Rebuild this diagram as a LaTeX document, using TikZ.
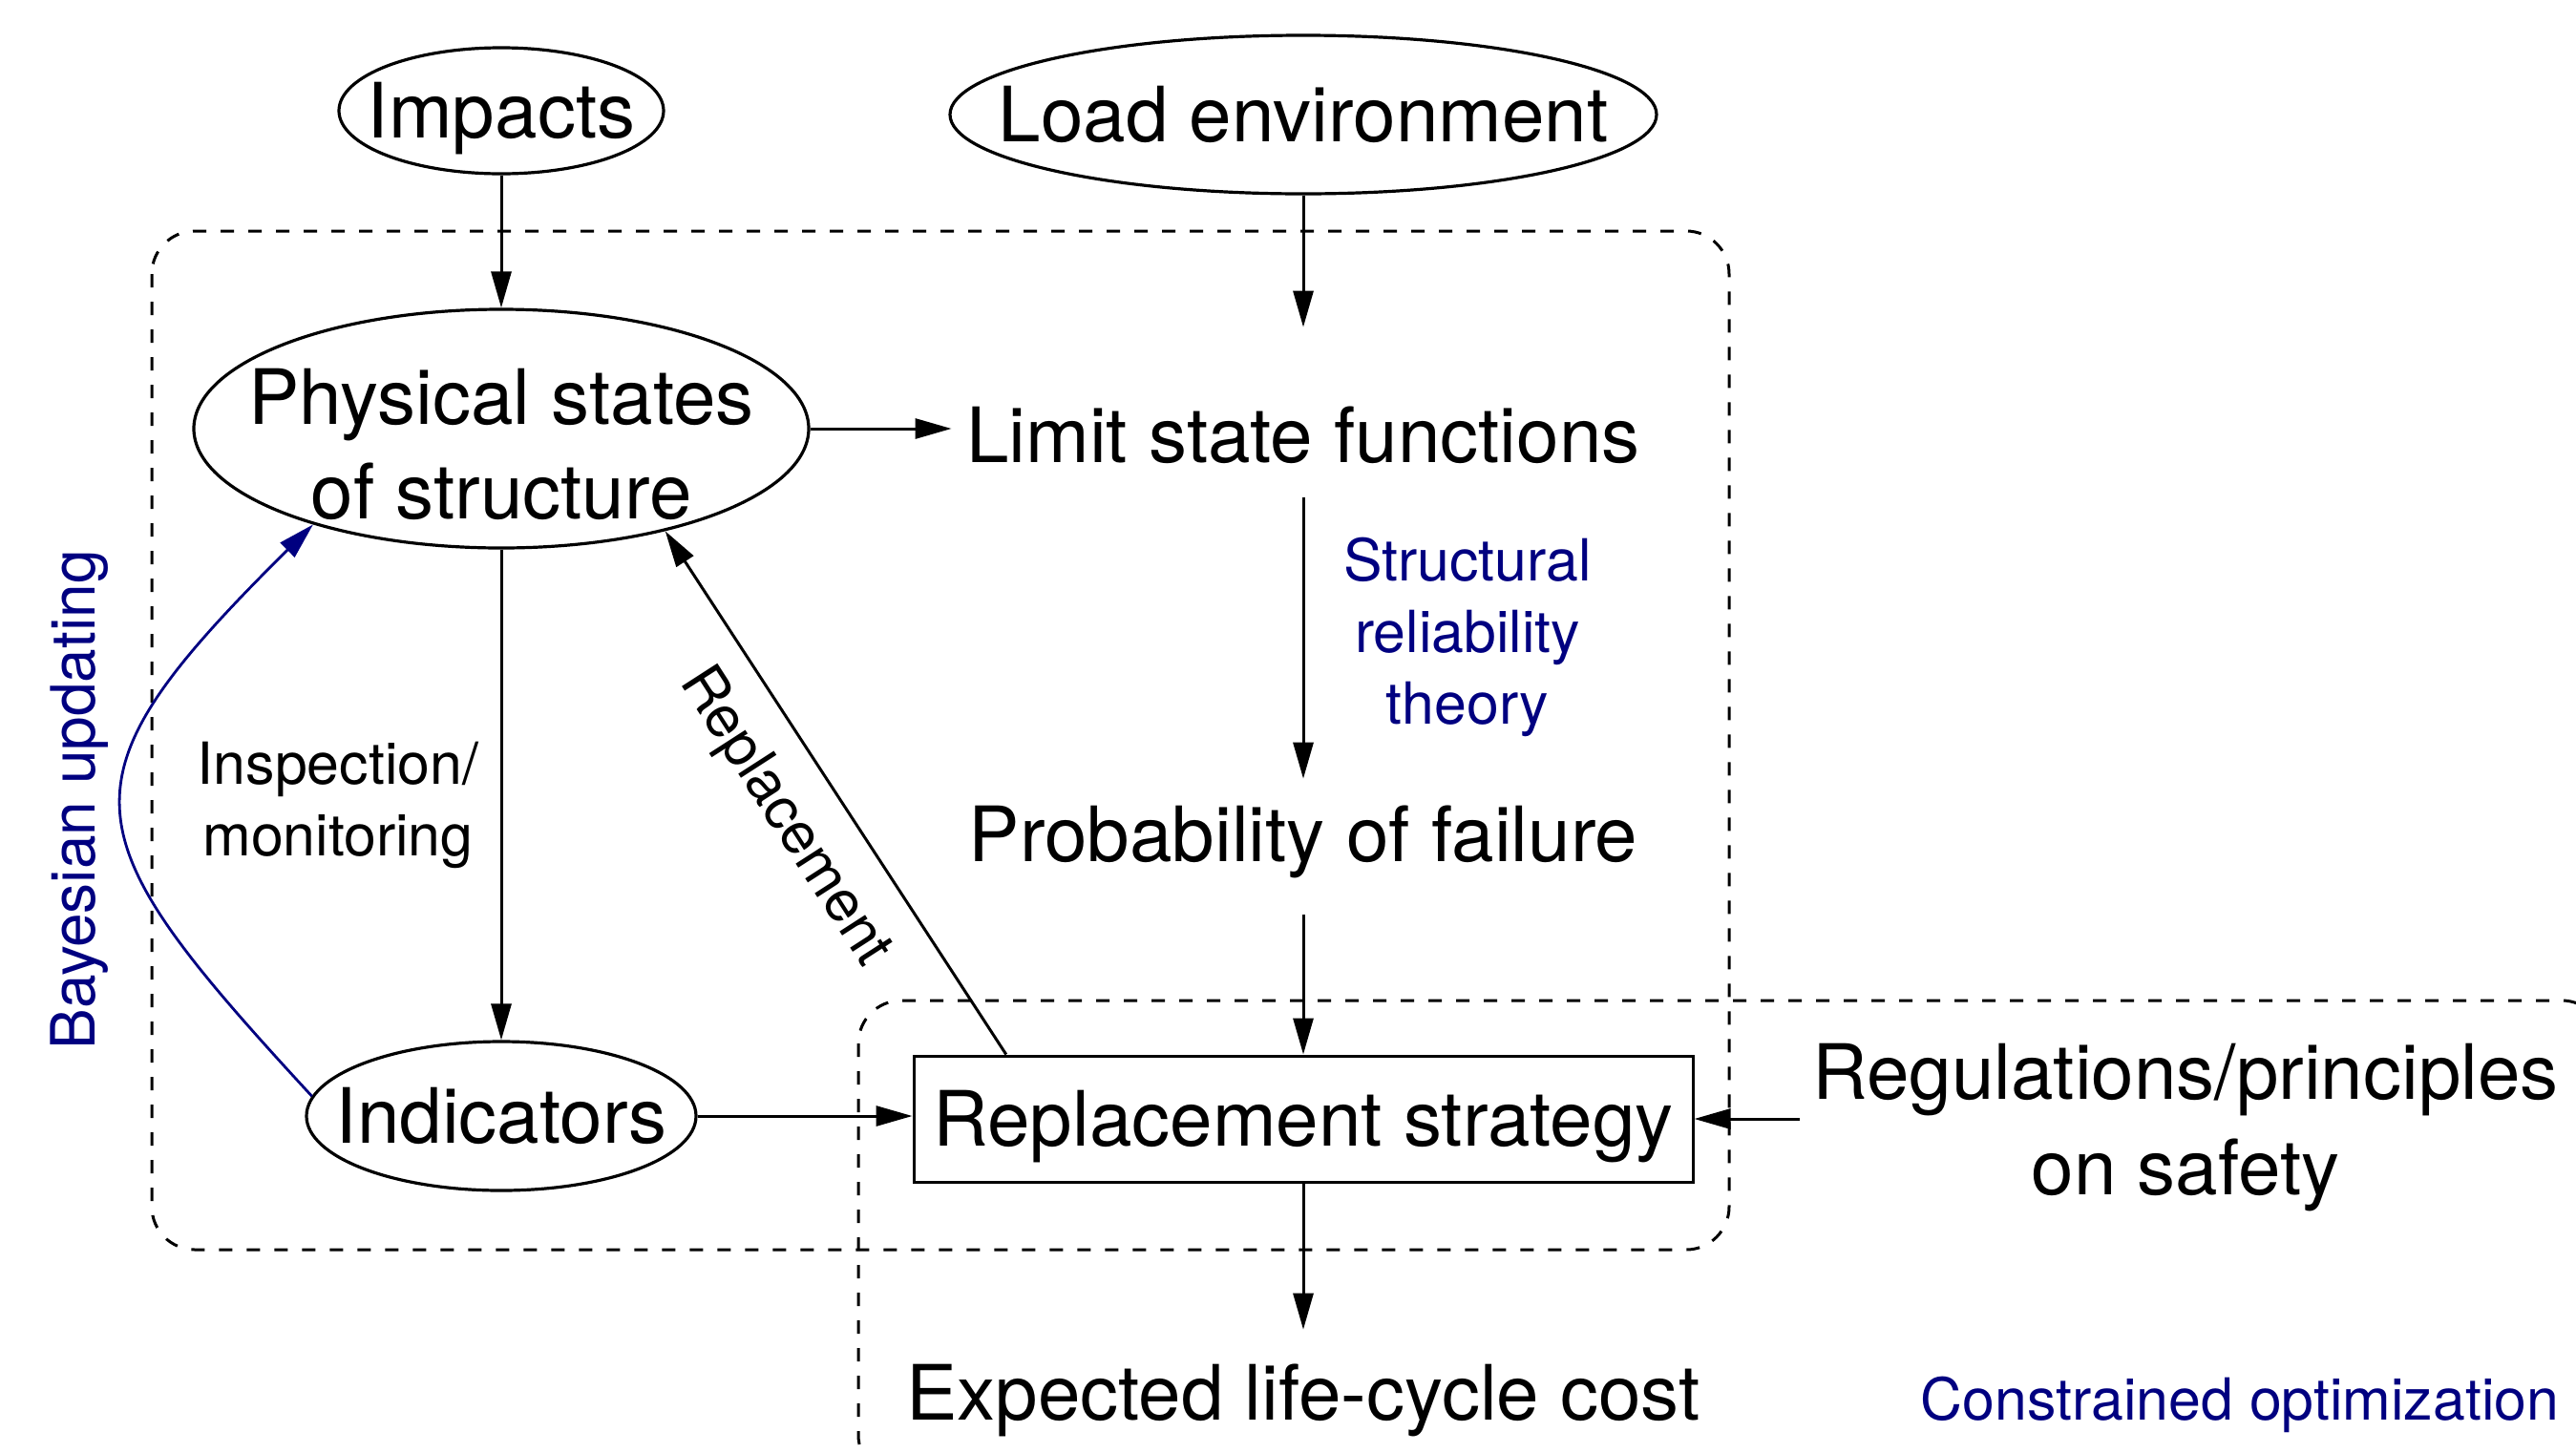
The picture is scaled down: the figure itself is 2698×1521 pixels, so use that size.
\documentclass[tikz,border=0pt]{standalone}
\usepackage{fontspec}
\setmainfont{TeX Gyre Heros}
\usetikzlibrary{arrows.meta,shapes.geometric,calc}
\definecolor{navyblue}{RGB}{0,0,128}
\begin{document}
\begin{tikzpicture}[x=0.25pt,y=-0.25pt,
  every node/.style={inner sep=0pt},
  big/.style={font=\fontsize{20}{25}\selectfont},
  mid/.style={font=\fontsize{15.2}{18.75}\selectfont},
  ell/.style={draw, ellipse, line width=0.8pt, big, text height=14.36pt, text depth=0pt},
  conn/.style={-{Triangle[length=9.5pt,width=5.25pt]}, line width=0.75pt},
  frame/.style={draw, line width=0.75pt, dash pattern=on 3.5pt off 3.75pt, rounded corners=11.25pt},
  lbl/.style={big, anchor=base}
]
\useasboundingbox (0,0) rectangle (2698,1521);

% dashed frames
\draw[frame] (159,242) rectangle (1811,1309);
\draw[frame] (899,1048) rectangle (2728,1548);

% nodes
\node[ell, minimum width=85pt, minimum height=33pt] (imp) at (525,116) {\makebox[0pt]{Impacts}};
\node[ell, minimum width=185pt, minimum height=41.5pt] (load) at (1365,120) {\makebox[0pt]{Load environment}};
\node[draw, ellipse, line width=0.8pt, minimum width=161pt, minimum height=62.5pt] (phys) at (525,449) {};
\node[align=center, font=\fontsize{20}{24.75}\selectfont] (physt) at (525,465) {Physical states\\of structure};
\node[ell, minimum width=102pt, minimum height=39pt] (ind) at (525,1169) {\makebox[0pt]{Indicators}};
\node[draw, rectangle, line width=0.75pt, big, minimum width=204pt, minimum height=33pt,
      text height=14.36pt, text depth=0pt] (box) at (1365,1172) {Replacement strategy};

\node[lbl] (lim) at (1365,484) {Limit state functions};
\node[lbl] (prob) at (1365,902) {Probability of failure};
\node[lbl] (exp) at (1365,1487) {Expected life-cycle cost};
\node[big, align=center] (regs) at (2289,1181) {Regulations/principles\\on safety};
\node[mid, align=center] (insp) at (354,843) {Inspection/\\monitoring};
\node[mid, align=center, text=navyblue] (srt) at (1537,667) {Structural\\reliability\\theory};
\node[mid, text=navyblue, anchor=base] (cons) at (2346,1487) {Constrained optimization};
\node[font=\fontsize{16}{19}\selectfont, text=navyblue, rotate=90, anchor=base] (bayes) at (99,838) {Bayesian updating};
\node[mid, rotate=-57.2] (repl) at (821,856) {Replacement};

% connectors
\draw[conn] (imp) -- (phys);
\draw[conn, shorten >=20.5pt] (load) -- (lim.north);
\draw[conn, shorten >=3.75pt] (phys.east) -- (phys.east -| lim.west);
\draw[conn, shorten <=8.75pt, shorten >=6.75pt] (lim.south) -- (prob.north);
\draw[conn, shorten <=9.5pt] (prob.south) -- (box.north);
\draw[conn, shorten >=8.75pt] (box.south) -- (exp.north);
\draw[conn] (phys.south) -- (ind.north);
\draw[conn] (ind.east) -- (ind.east -| box.west);
\draw[conn, shorten <=3pt] (regs.west |- box.east) -- (box.east);
\draw[conn] ($(box.north west)!0.12!(box.north east)$) -- (phys.-32);
\draw[conn, navyblue, line width=0.7pt] (ind.174) .. controls (70,870) and (55,820) .. (phys.207);
\end{tikzpicture}
\end{document}
